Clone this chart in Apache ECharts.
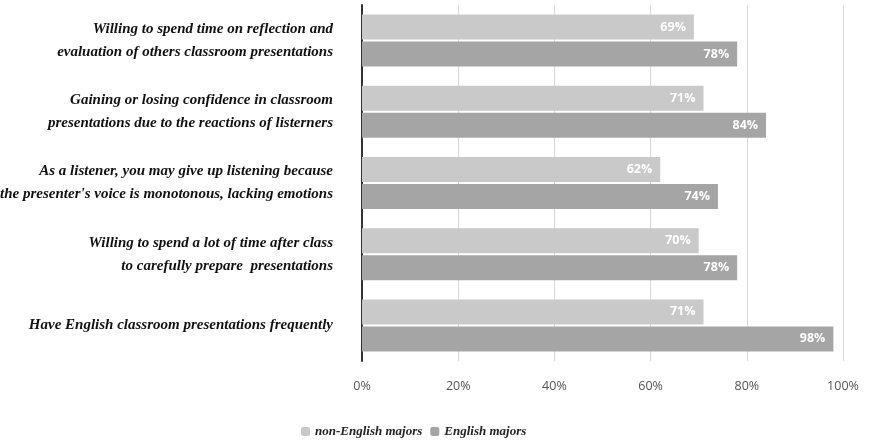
<!DOCTYPE html>
<html>
<head>
<meta charset="utf-8">
<script src="https://cdn.jsdelivr.net/npm/echarts@6/dist/echarts.min.js"></script>
<style>
  html, body { margin: 0; padding: 0; background: #fff; }
  #chart { width: 873px; height: 442px; }
</style>
</head>
<body>
<div id="chart"></div>
<script>
// categories, top to bottom
var items = [
  'Willing to spend time on reflection and\nevaluation of others classroom presentations',
  'Gaining or losing confidence in classroom\npresentations due to the reactions of listerners',
  'As a listener, you may give up listening because\nthe presenter\'s voice is monotonous, lacking emotions',
  'Willing to spend a lot of time after class\nto carefully prepare  presentations',
  'Have English classroom presentations frequently'
];
var nonEnglish = [69, 71, 62, 70, 71];
var english = [78, 84, 74, 78, 98];
var seriesNames = ['non-English majors', 'English majors'];
var ticks = [0, 20, 40, 60, 80, 100];

var serifFont = '"Liberation Serif", "Times New Roman", Times, serif';

var myChart = echarts.init(document.getElementById('chart'));

var labelStyle = {
  show: true,
  position: 'insideRight',
  color: '#fff',
  fontFamily: 'Open Sans',
  fontWeight: 'bold',
  fontSize: 12.5,
  formatter: '{c}%',
  distance: 8
};

var option = {
  animation: false,
  backgroundColor: '#fff',
  grid: { left: 362, right: 30, top: 5, bottom: 81, outerBoundsMode: 'none', containLabel: false },
  legend: {
    data: seriesNames,
    left: 296,
    top: 420,
    itemWidth: 9,
    itemHeight: 9,
    itemGap: 8,
    textStyle: {
      fontFamily: serifFont,
      fontStyle: 'italic',
      fontWeight: 'bold',
      fontSize: 13,
      color: '#222'
    }
  },
  xAxis: {
    type: 'value',
    min: ticks[0],
    max: ticks[ticks.length - 1],
    interval: 20,
    axisLine: { show: false },
    axisTick: { show: false },
    splitLine: { show: true, lineStyle: { color: '#d9d9d9', width: 1 } },
    axisLabel: {
      formatter: '{value}%',
      color: '#555',
      fontFamily: 'Open Sans',
      fontSize: 12.5,
      margin: 19
    }
  },
  yAxis: {
    type: 'category',
    inverse: true,
    data: items,
    axisLine: { show: true, lineStyle: { color: '#333', width: 2 } },
    axisTick: { show: false },
    axisLabel: {
      margin: 29,
      color: '#111',
      fontFamily: serifFont,
      fontStyle: 'italic',
      fontWeight: 'bold',
      fontSize: 15,
      lineHeight: 23,
      align: 'right'
    }
  },
  series: [
    {
      name: seriesNames[0],
      type: 'bar',
      data: nonEnglish,
      barWidth: 25,
      barGap: '8%',
      itemStyle: { color: '#c9c9c9' },
      label: labelStyle
    },
    {
      name: seriesNames[1],
      type: 'bar',
      data: english,
      barWidth: 25,
      barGap: '8%',
      itemStyle: { color: '#a5a5a5' },
      label: labelStyle
    }
  ]
};

myChart.setOption(option, true);
</script>
</body>
</html>
